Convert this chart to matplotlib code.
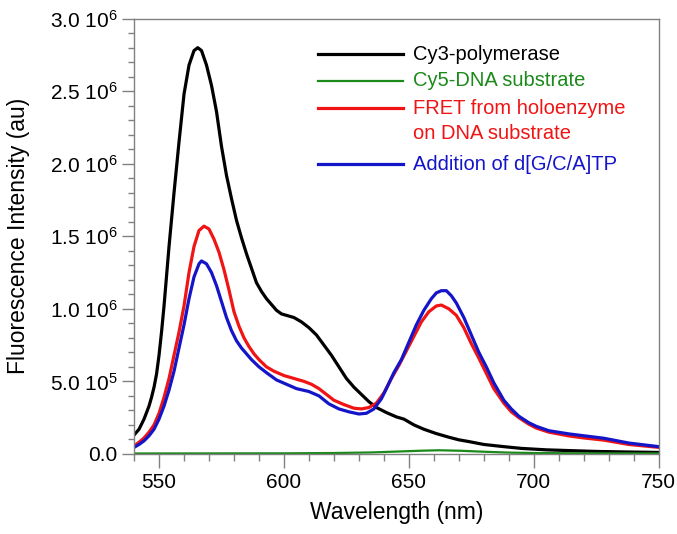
import numpy as np
import matplotlib
matplotlib.use("Agg")
import matplotlib.pyplot as plt
from matplotlib.ticker import MultipleLocator, FixedLocator, FixedFormatter

plt.rcParams['font.family'] = ['Liberation Sans', 'DejaVu Sans']
plt.rcParams['mathtext.fontset'] = 'custom'
plt.rcParams['mathtext.rm'] = 'Liberation Sans'
plt.rcParams['mathtext.it'] = 'Liberation Sans'

# spectra, intensity in units of 1e6 au
wl_cy3 = [540, 542, 544, 546, 547, 548, 549, 550, 551, 552, 554, 556, 558, 560, 562, 564,
          565.5, 567, 569, 571, 573, 575, 577, 579, 581, 583, 585, 587, 589, 591, 593, 595,
          597, 599, 601, 604, 607, 610, 613, 616, 619, 622, 625, 628, 631, 634, 637, 641,
          645, 648, 652, 656, 661, 666, 670, 674, 680, 688, 695, 705, 714, 725, 738, 750]
cy3 = [0.13, 0.17, 0.24, 0.33, 0.39, 0.46, 0.55, 0.68, 0.84, 1.02, 1.43, 1.80, 2.15, 2.48,
       2.68, 2.78, 2.80, 2.78, 2.68, 2.54, 2.36, 2.12, 1.92, 1.76, 1.61, 1.49, 1.38, 1.28,
       1.18, 1.12, 1.07, 1.03, 0.99, 0.965, 0.955, 0.94, 0.91, 0.87, 0.82, 0.75, 0.68, 0.60,
       0.52, 0.46, 0.41, 0.36, 0.32, 0.285, 0.255, 0.24, 0.20, 0.17, 0.14, 0.115, 0.097,
       0.085, 0.065, 0.05, 0.038, 0.028, 0.023, 0.017, 0.013, 0.01]

wl_cy5 = [540, 600, 620, 635, 645, 655, 662, 670, 680, 690, 700, 720, 750]
cy5 = [0.003, 0.004, 0.006, 0.010, 0.016, 0.022, 0.025, 0.022, 0.015, 0.009, 0.006, 0.004, 0.003]

wl_fret = [540, 542, 544, 546, 548, 550, 552, 554, 556, 558, 560, 562, 564, 566, 568, 570,
           572, 574, 576, 578, 580, 582, 584, 586, 588, 590, 593, 596, 600, 604, 608, 611,
           614, 617, 620, 624, 628, 631, 634, 637, 640, 643, 646, 649, 652, 655, 658, 661,
           663, 666, 669, 672, 675, 678, 681, 684, 688, 691, 694, 698, 701, 706, 714, 720,
           728, 738, 750]
fret = [0.055, 0.08, 0.11, 0.15, 0.20, 0.28, 0.39, 0.52, 0.68, 0.84, 1.02, 1.25, 1.43, 1.54,
        1.57, 1.55, 1.48, 1.39, 1.27, 1.13, 0.98, 0.88, 0.80, 0.74, 0.69, 0.65, 0.60, 0.57,
        0.54, 0.52, 0.50, 0.48, 0.45, 0.41, 0.37, 0.34, 0.315, 0.31, 0.32, 0.35, 0.42, 0.52,
        0.61, 0.71, 0.81, 0.91, 0.98, 1.02, 1.026, 1.00, 0.955, 0.87, 0.76, 0.66, 0.555, 0.45,
        0.35, 0.29, 0.25, 0.205, 0.178, 0.15, 0.124, 0.11, 0.095, 0.065, 0.045]

wl_dntp = [540, 542, 544, 546, 548, 550, 552, 554, 556, 558, 560, 562, 564, 566, 567, 569,
           571, 573, 575, 577, 579, 581, 583, 585, 587, 590, 593, 597, 601, 605, 610, 614,
           618, 622, 626, 630, 633, 636, 639, 641, 644, 647, 650, 653, 656, 659, 661, 663,
           665, 667, 669, 672, 675, 678, 681, 684, 688, 691, 694, 698, 701, 706, 714, 720,
           728, 738, 750]
dntp = [0.045, 0.065, 0.09, 0.125, 0.17, 0.24, 0.33, 0.44, 0.57, 0.73, 0.89, 1.07, 1.22, 1.31,
        1.33, 1.31, 1.25, 1.16, 1.05, 0.94, 0.85, 0.78, 0.73, 0.69, 0.65, 0.60, 0.56, 0.51,
        0.48, 0.45, 0.43, 0.40, 0.345, 0.31, 0.29, 0.275, 0.28, 0.31, 0.38, 0.45, 0.56, 0.65,
        0.77, 0.89, 0.99, 1.07, 1.11, 1.125, 1.125, 1.09, 1.04, 0.94, 0.82, 0.70, 0.60, 0.49,
        0.37, 0.31, 0.26, 0.215, 0.19, 0.16, 0.138, 0.125, 0.108, 0.075, 0.05]

labels = [["Cy3-polymerase"], ["Cy5-DNA substrate"],
          ["FRET from holoenzyme", "on DNA substrate"], ["Addition of d[G/C/A]TP"]]
colors = ["#000000", "#1b8a1b", "#f01414", "#1414c8"]
widths = [2.3, 1.6, 2.3, 2.3]

ytick_vals = [0, 0.5e6, 1.0e6, 1.5e6, 2.0e6, 2.5e6, 3.0e6]
ytick_labels = ["0.0", "5.0 10$^{5}$", "1.0 10$^{6}$", "1.5 10$^{6}$",
                "2.0 10$^{6}$", "2.5 10$^{6}$", "3.0 10$^{6}$"]

fig = plt.figure(figsize=(6.77, 5.34), dpi=100)
ax = fig.add_axes([0.198, 0.15, 0.775, 0.815])

series = [(wl_cy3, cy3), (wl_cy5, cy5), (wl_fret, fret), (wl_dntp, dntp)]
for (x, y), c, lw in zip(series, colors, widths):
    ax.plot(x, np.array(y) * 1e6, color=c, lw=lw, solid_joinstyle='round')

ax.set_xlim(540, 750)
ax.set_ylim(0, 3.0e6)
ax.xaxis.set_major_locator(FixedLocator([550, 600, 650, 700, 750]))
ax.xaxis.set_minor_locator(MultipleLocator(10))
ax.yaxis.set_major_locator(FixedLocator(ytick_vals))
ax.yaxis.set_major_formatter(FixedFormatter(ytick_labels))
ax.yaxis.set_minor_locator(MultipleLocator(1e5))

gray = "#808080"
for s in ax.spines.values():
    s.set_color(gray)
    s.set_linewidth(1.0)
ax.tick_params(axis='x', which='major', length=10, width=1, color=gray, labelsize=15, pad=4)
ax.tick_params(axis='x', which='minor', length=5, width=1, color=gray)
ax.tick_params(axis='y', which='major', length=9, width=1, color=gray, labelsize=15, pad=3)
ax.tick_params(axis='y', which='minor', length=4, width=1, color=gray)

ax.set_xlabel("Wavelength (nm)", fontsize=16.5, labelpad=6)
ax.set_ylabel("Fluorescence Intensity (au)", fontsize=16.5, labelpad=14)

# legend drawn by hand so the FRET handle sits on its first text line
row_y = [0.918, 0.857, 0.794, 0.666]
line_step = 0.057
for lines, c, lw, y in zip(labels, colors, widths, row_y):
    ax.plot([0.350, 0.512], [y, y], transform=ax.transAxes, color=c, lw=lw)
    for k, t in enumerate(lines):
        ax.text(0.531, y - k * line_step, t, transform=ax.transAxes, color=c,
                fontsize=14.5, va='center', ha='left')

fig.savefig("out.png", dpi=100)
